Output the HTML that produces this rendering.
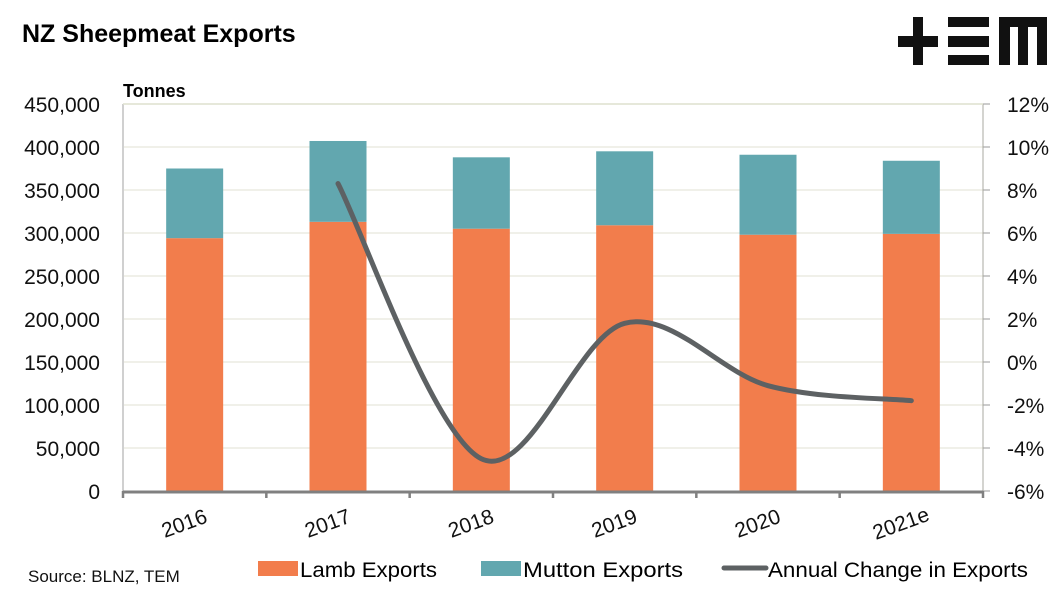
<!DOCTYPE html>
<html><head><meta charset="utf-8"><style>
body{margin:0;background:#fff;}
svg text{font-family:"Liberation Sans",sans-serif;}
</style></head><body>
<svg id="chart" width="1064" height="591" viewBox="0 0 1064 591" xmlns="http://www.w3.org/2000/svg">
<text x="22" y="42" font-size="25" font-weight="bold" fill="#000">NZ Sheepmeat Exports</text>
<g fill="#111">
<rect x="913" y="17" width="10" height="48"/><rect x="898" y="36" width="40" height="11"/>
<rect x="948" y="17" width="41" height="10"/><rect x="948" y="36" width="41" height="11"/><rect x="948" y="55" width="41" height="10"/>
<rect x="999" y="17" width="48" height="10"/><rect x="999" y="17" width="11" height="48"/><rect x="1018" y="17" width="10" height="48"/><rect x="1037" y="17" width="10" height="48"/>
</g>
<text x="123" y="97" font-size="18" font-weight="bold">Tonnes</text>
<g id="grid"></g><g id="bars"></g><g id="line"></g><g id="axes"></g>
<text x="28" y="582" font-size="17" fill="#111">Source: BLNZ, TEM</text>
<g>
<g><rect x="258" y="561" width="40" height="15" fill="#F27D4C"/><text x="300" y="577" font-size="21" textLength="137" lengthAdjust="spacingAndGlyphs">Lamb Exports</text></g>
<g><rect x="481" y="561" width="40" height="15" fill="#62A7AF"/><text x="523" y="577" font-size="21" textLength="160" lengthAdjust="spacingAndGlyphs">Mutton Exports</text></g>
<g><line x1="724" y1="568" x2="766" y2="568" stroke="#5D6163" stroke-width="5" stroke-linecap="round"/><text x="768" y="577" font-size="21" textLength="260" lengthAdjust="spacingAndGlyphs">Annual Change in Exports</text></g>
</g>
</svg>
<script>
const categories=["2016","2017","2018","2019","2020","2021e"];
const lambValues=[294000,313000,305000,309000,298000,299000];
const muttonValues=[81000,94000,83000,86000,93000,85000];
const changeYears=["2017","2018","2019","2020","2021e"];
const changeValues=[8.3,-4.5,1.8,-1.1,-1.8];
const leftTicks=[0,50000,100000,150000,200000,250000,300000,350000,400000,450000];
const rightTicks=[-6,-4,-2,0,2,4,6,8,10,12];

const NS="http://www.w3.org/2000/svg";
const L=123,R=983,T=104,B=491;
const yL=v=>B-(v/450000)*(B-T);
const yR=v=>B-((v+6)/18)*(B-T);
const step=(R-L)/categories.length;
const xC=i=>L+step*(i+0.5);
function mk(tag,attrs,parent){const e=document.createElementNS(NS,tag);for(const k in attrs)e.setAttribute(k,attrs[k]);parent.appendChild(e);return e;}
const grid=document.getElementById('grid'),bars=document.getElementById('bars'),line=document.getElementById('line'),axes=document.getElementById('axes');
leftTicks.forEach((t,i)=>{
 if(t>0){const g=mk('line',{x1:L,x2:R,y1:yL(t),y2:yL(t),stroke:'#E6E8DC','stroke-width':1.2},grid);
 
 }
 const tx=mk('text',{x:100,y:yL(t)+8,'text-anchor':'end','font-size':21,fill:'#111'},axes);tx.textContent=t.toLocaleString('en-US');
 
 
});
rightTicks.forEach(t=>{
 const tk=mk('line',{x1:R,x2:R+7,y1:yR(t),y2:yR(t),stroke:'#999','stroke-width':1},axes);
 
 
 const tx=mk('text',{x:1007,y:yR(t)+8,'font-size':21,fill:'#111'},axes);tx.textContent=t+'%';
 
 
});
const bw=57;
categories.forEach((c,i)=>{
 const x=xC(i)-bw/2;
 const lb=mk('rect',{x:x,y:yL(lambValues[i]),width:bw,height:B-yL(lambValues[i]),fill:'#F27D4C'},bars);
 
 
 const tot=lambValues[i]+muttonValues[i];
 const mb=mk('rect',{x:x,y:yL(tot),width:bw,height:yL(lambValues[i])-yL(tot),fill:'#62A7AF'},bars);
 
 
 const lx=xC(i)-8,ly=530;
 const tx=mk('text',{x:lx,y:ly,'text-anchor':'middle','font-size':21,fill:'#111',transform:`rotate(-20 ${lx} ${ly})`},axes);tx.textContent=c;
 
 
});
const la=mk('line',{x1:L,x2:L,y1:T,y2:B,stroke:'#D0D0D0','stroke-width':2},axes);


const ra=mk('line',{x1:R,x2:R,y1:T,y2:B,stroke:'#A8A8A0','stroke-width':1},axes);


const tl=mk('line',{x1:L,x2:R,y1:T,y2:T,stroke:'#E0E2D0','stroke-width':1.5},axes);


const xa=mk('line',{x1:L,x2:R,y1:B+1,y2:B+1,stroke:'#808080','stroke-width':3},axes);


for(let i=0;i<=categories.length;i++){const t=mk('line',{x1:L+step*i,x2:L+step*i,y1:B,y2:B+7,stroke:'#808080','stroke-width':2.5},axes);
 
 }
const pts=changeYears.map((y,k)=>[xC(categories.indexOf(y)),yR(changeValues[k])]);
let d=`M${pts[0][0]},${pts[0][1]}`;
for(let i=0;i<pts.length-1;i++){
 const p0=pts[Math.max(0,i-1)],p1=pts[i],p2=pts[i+1],p3=pts[Math.min(pts.length-1,i+2)];
 const c1=[p1[0]+(p2[0]-p0[0])/6,p1[1]+(p2[1]-p0[1])/6],c2=[p2[0]-(p3[0]-p1[0])/6,p2[1]-(p3[1]-p1[1])/6];
 d+=` C${c1[0]},${c1[1]} ${c2[0]},${c2[1]} ${p2[0]},${p2[1]}`;
}
const pl=mk('path',{d:d,fill:'none',stroke:'#5D6163','stroke-width':5,'stroke-linecap':'round'},line);


</script>
</body></html>
